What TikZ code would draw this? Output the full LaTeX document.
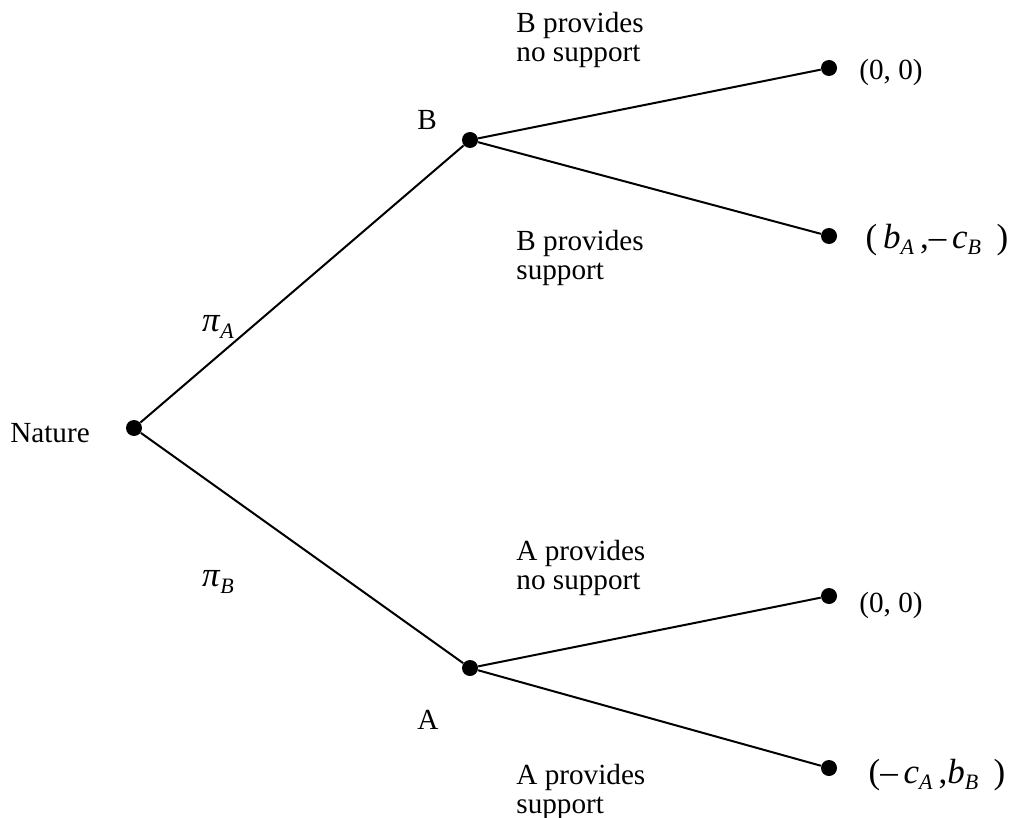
\documentclass[tikz,border=0pt]{standalone}
\usepackage{fontspec}
\setmainfont{Liberation Serif}
\usepackage{tikz}
\newcommand{\sbx}[2]{\textit{#1}\raisebox{-0.4ex}{\fontsize{11}{11}\selectfont\textit{#2}}}

\begin{document}
\begin{tikzpicture}[x=0.5pt,y=-0.5pt,
  dot/.style={circle,fill=black,inner sep=0pt,minimum size=8pt},
  lbl/.style={font=\fontsize{14.6}{14.6}\selectfont,inner sep=0pt},
  mth/.style={font=\fontsize{17.5}{17.5}\selectfont,inner sep=0pt},
  txt/.style={lbl,align=left,anchor=west}]
\useasboundingbox (0,0) rectangle (1016,818);

% decision points
\node[dot] (nat) at (134,428) {};
\node[dot] (b) at (470,140) {};
\node[dot] (a) at (470,668) {};
\node[dot] (t1) at (829,68) {};
\node[dot] (t2) at (829,236) {};
\node[dot] (t3) at (829,596) {};
\node[dot] (t4) at (829,768) {};

% branches
\draw[line width=1pt] (nat) -- (b); \draw[line width=1pt] (nat) -- (a);
\draw[line width=1pt] (b) -- (t1); \draw[line width=1pt] (b) -- (t2);
\draw[line width=1pt] (a) -- (t3); \draw[line width=1pt] (a) -- (t4);

% players
\node[lbl] (natlbl) at (50,433) {Nature};
\node[lbl] (blbl) at (427,120) {B};
\node[lbl] (albl) at (428,720) {A};
\node[mth] (pia) at (218,327) {\sbx{π}{A}};
\node[mth] (pib) at (218,582) {\sbx{π}{B}};

% actions
\node[txt] (bno) at (516,40) {B provides\\no support};
\node[txt] (byes) at (516,258) {B provides\\support};
\node[txt] (ano) at (516,568) {A provides\\no support};
\node[txt] (ayes) at (516,792) {A provides\\support};

% payoffs
\node[lbl] (p1) at (891,72) {(0, 0)};
\node[mth] (p2) at (937,240) {(\,\sbx{b}{A}\,,–\,\sbx{c}{B}\;\,)};
\node[lbl] (p3) at (891,605) {(0, 0)};
\node[mth] (p4) at (937,775) {(–\,\sbx{c}{A}\,,\sbx{b}{B}\;\,)};
\end{tikzpicture}
\end{document}
